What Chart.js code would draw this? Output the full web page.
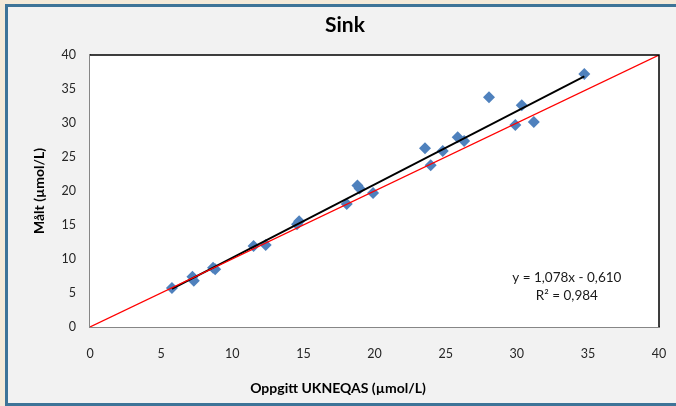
<!DOCTYPE html>
<html>
<head>
<meta charset="utf-8">
<script src="https://cdn.jsdelivr.net/npm/chart.js@4"></script>
<style>
  body { margin: 0; background: #f4ead9; overflow: hidden; }
  #frame {
    position: absolute; left: 5px; top: 4px;
    width: 671px; height: 396px;
    border-left: 3px solid #3e7498; border-top: 3px solid #3e7498; border-bottom: 3px solid #3e7498;
    background: #f2f2f2;
  }
  canvas { display: block; }
</style>
</head>
<body>
<div id="frame"><canvas id="myChart" width="668" height="396"></canvas></div>
<script>
const oppgitt = [5.76, 7.2, 7.3, 8.65, 8.8, 11.5, 12.35, 14.55, 14.7, 18.05, 18.8, 18.95, 19.9,
  23.55, 23.95, 24.8, 25.85, 26.3, 28.05, 29.9, 30.35, 31.2, 34.75];
const maalt = [5.75, 7.4, 6.8, 8.7, 8.5, 11.9, 12.05, 15.1, 15.55, 18.1, 20.8, 20.35, 19.7,
  26.3, 23.8, 25.9, 27.9, 27.35, 33.8, 29.7, 32.6, 30.15, 37.2];
const ticks = [0, 5, 10, 15, 20, 25, 30, 35, 40];
const slope = 1.078;
const intercept = -0.610;
const eqText = ["y = 1,078x - 0,610", "R² = 0,984"];
const title = "Sink";
const xTitle = "Oppgitt UKNEQAS (µmol/L)";

const points = oppgitt.map((x, i) => ({ x: x, y: maalt[i] }));
const xMin = Math.min(...oppgitt);
const xMax = Math.max(...oppgitt);
const trend = [
  { x: xMin, y: slope * xMin + intercept },
  { x: xMax, y: slope * xMax + intercept },
];
const identity = [{ x: ticks[0], y: ticks[0] }, { x: ticks[ticks.length - 1], y: ticks[ticks.length - 1] }];

// white plot area, black top/right frame, title, equation text and x title
const plotArea = {
  id: "plotArea",
  beforeDatasetsDraw(chart) {
    const { ctx, chartArea: a } = chart;
    ctx.save();
    ctx.fillStyle = "#ffffff";
    ctx.fillRect(a.left, a.top, a.right - a.left, a.bottom - a.top);
    ctx.restore();
  },
  afterDraw(chart) {
    const { ctx, chartArea: a } = chart;
    ctx.save();
    ctx.strokeStyle = "#000000";
    ctx.lineWidth = 1.5;
    ctx.beginPath();
    ctx.moveTo(a.left, a.top);
    ctx.lineTo(a.right, a.top);
    ctx.lineTo(a.right, a.bottom);
    ctx.stroke();
    ctx.fillStyle = "#1a1a1a";
    ctx.font = "13.5px Lato";
    ctx.textAlign = "center";
    ctx.textBaseline = "middle";
    const cx = a.left + (a.right - a.left) * 0.838;
    ctx.fillText(eqText[0], cx, a.top + (a.bottom - a.top) * 0.818);
    ctx.fillText(eqText[1], cx, a.top + (a.bottom - a.top) * 0.886);
    ctx.fillStyle = "#000000";
    ctx.font = "bold 14px Lato";
    ctx.fillText(xTitle, chart.width / 2 - 4, chart.height - 15);
    ctx.font = "bold 21px Lato";
    ctx.textBaseline = "alphabetic";
    ctx.fillText(title, 337, 25);
    ctx.restore();
  },
};

const config = {
  type: "scatter",
  data: {
    datasets: [
      {
        label: "Identitet",
        data: identity,
        showLine: true,
        borderColor: "#ff0000",
        borderWidth: 1.2,
        pointRadius: 0,
      },
      {
        label: "Trend",
        data: trend,
        showLine: true,
        borderColor: "#000000",
        borderWidth: 1.8,
        pointRadius: 0,
      },
      {
        label: "Sink",
        data: points,
        pointStyle: "rectRot",
        pointRadius: 6,
        pointHoverRadius: 6,
        backgroundColor: "#4f81bd",
        borderColor: "#4f81bd",
        borderWidth: 0,
      },
    ],
  },
  options: {
    responsive: false,
    animation: false,
    layout: { padding: { top: 48, right: 17 } },
    plugins: {
      legend: { display: false },
      tooltip: { enabled: false },
      title: { display: false },
    },
    scales: {
      x: {
        type: "linear",
        min: 0,
        max: 40,
        afterFit: (s) => { s.height = 76; s.paddingLeft = 0; s.paddingRight = 0; },
        afterBuildTicks: (s) => { s.ticks = ticks.map((v) => ({ value: v })); },
        grid: { display: false, drawTicks: false },
        border: { color: "#868686", width: 2 },
        ticks: { color: "#262626", padding: 19, font: { family: "Lato", size: 12.5 } },
      },
      y: {
        type: "linear",
        min: 0,
        max: 40,
        afterFit: (s) => { s.width = 82; s.paddingTop = 0; s.paddingBottom = 0; },
        afterBuildTicks: (s) => { s.ticks = ticks.map((v) => ({ value: v })); },
        grid: { display: false, drawTicks: false },
        border: { color: "#868686", width: 2 },
        ticks: { color: "#262626", padding: 14, font: { family: "Lato", size: 12.5 } },
        title: {
          display: true,
          text: "Målt (µmol/L)",
          color: "#000000",
          font: { family: "Lato", size: 14, weight: "bold" },
          padding: { top: 23, bottom: 23 },
        },
      },
    },
  },
  plugins: [plotArea],
};

const myChart = new Chart(document.getElementById("myChart"), config);
</script>
</body>
</html>
